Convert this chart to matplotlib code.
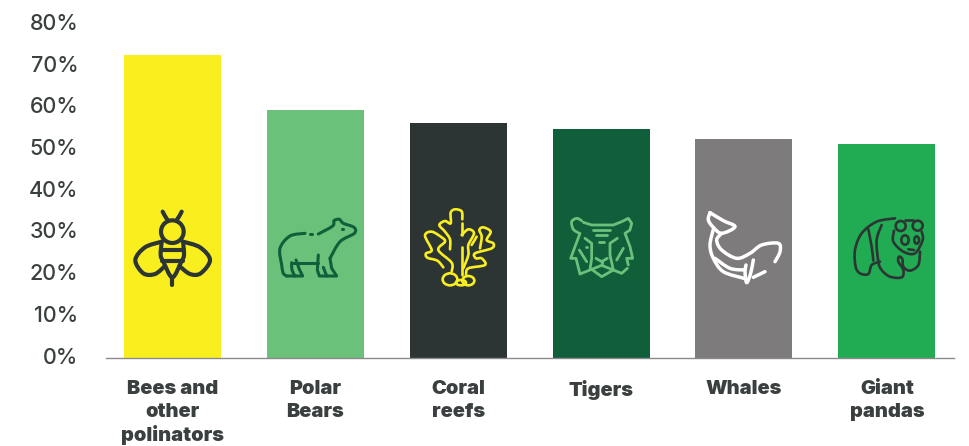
import numpy as np
from matplotlib import pyplot as plt
from matplotlib.patches import Ellipse, PathPatch
from matplotlib.path import Path

categories = ["Bees and\nother\npolinators", "Polar\nBears", "Coral\nreefs", "Tigers", "Whales", "Giant\npandas"]
values = [72.6, 59.4, 56.3, 54.8, 52.4, 51.2]
colors = ["#FAEF1E", "#6AC17A", "#2D3534", "#115E3B", "#7D7B7C", "#21AB52"]
y_ticks = [0, 10, 20, 30, 40, 50, 60, 70, 80]
text_color = "#3A3F3F"

W, H = 970, 446

fig = plt.figure(figsize=(W / 100, H / 100), dpi=100)
ax = fig.add_axes([106 / W, (H - 357.5) / H, 848 / W, 333.5 / H])

x = np.arange(len(categories))
ax.bar(x, values, width=0.679, color=colors)
ax.set_xlim(-0.464, 5.470)
ax.set_ylim(0, 80)

ax.set_yticks(y_ticks)
ax.set_yticklabels([f"{v}%" for v in y_ticks], family="Inter", fontsize=15.5, fontweight=500, color=text_color, va="center")
ax.set_xticks(x)
ax.set_xticklabels(categories, family="Inter", fontsize=14.4, fontweight=900, color=text_color, linespacing=1.3)
ax.tick_params(axis="y", length=0, pad=20)
ax.tick_params(axis="x", length=0, pad=16.5)
for side in ["top", "left", "right"]:
    ax.spines[side].set_visible(False)
ax.spines["bottom"].set_color("#8A8A8A")
ax.spines["bottom"].set_linewidth(1)

# icons sit on an overlay that uses pixel coordinates
ov = fig.add_axes([0, 0, 1, 1])
ov.set_xlim(0, W)
ov.set_ylim(H, 0)
ov.axis("off")
ov.patch.set_alpha(0)


def stroke(pts, origin, color, lw, smooth=True):
    p = np.array(pts, dtype=float) / 3 + origin
    if not smooth or len(p) < 3:
        verts = p
        codes = [Path.MOVETO] + [Path.LINETO] * (len(p) - 1)
    else:
        # catmull-rom to bezier
        q = np.vstack([p[0], p, p[-1]])
        verts = [p[0]]
        codes = [Path.MOVETO]
        for i in range(1, len(q) - 2):
            verts += [q[i] + (q[i + 1] - q[i - 1]) / 6, q[i + 1] - (q[i + 2] - q[i]) / 6, q[i + 1]]
            codes += [Path.CURVE4] * 3
    ov.add_patch(PathPatch(Path(verts, codes), fill=False, ec=color, lw=lw, capstyle="round", joinstyle="round"))


def oval(c, w, h, origin, color, lw):
    cx, cy = np.array(c, dtype=float) / 3 + origin
    ov.add_patch(Ellipse((cx, cy), w / 3, h / 3, fill=False, ec=color, lw=lw))


# bee
o = (110, 190)
c, lw = "#2D3534", 3.0
stroke([(158, 65), (165, 78), (174, 92)], o, c, lw)
stroke([(215, 65), (208, 78), (199, 92)], o, c, lw)
oval((187, 125), 68, 68, o, c, lw)
stroke([(155, 155), (152, 195), (160, 215), (187, 262), (214, 215), (222, 195), (219, 155)], o, c, lw)
stroke([(152, 180), (222, 180)], o, c, lw)
stroke([(155, 212), (219, 212)], o, c, lw)
stroke([(187, 262), (187, 285)], o, c, lw)
stroke([(155, 155), (105, 172), (76, 210), (100, 250), (135, 252), (165, 228)], o, c, lw)
stroke([(219, 155), (270, 172), (300, 210), (272, 250), (240, 252), (208, 228)], o, c, lw)

# bear
c, lw = "#115E3B", 2.2
stroke([(585, 130), (540, 138), (510, 175), (515, 225), (520, 250), (530, 258)], o, c, lw)
stroke([(530, 258), (578, 258), (568, 238), (558, 210)], o, c, lw, smooth=False)
stroke([(548, 218), (625, 218)], o, c, lw)
stroke([(545, 218), (546, 240), (555, 258)], o, c, lw)
stroke([(600, 131), (606, 131)], o, c, lw)
stroke([(625, 132), (668, 108), (672, 92), (688, 88), (700, 100), (732, 112), (733, 130), (690, 155), (660, 205)], o, c, lw)
stroke([(625, 195), (622, 240), (628, 258), (680, 258), (665, 235), (660, 205)], o, c, lw, smooth=False)
stroke([(640, 232), (650, 258)], o, c, lw)
stroke([(696, 118), (698, 118)], o, c, lw)

# coral
o = (400, 190)
c, lw = "#FAEF1E", 1.9
stroke([(155, 245), (155, 218), (115, 180), (135, 155), (125, 142), (95, 125), (75, 137), (95, 180), (78, 190), (82, 203), (112, 212), (130, 232)], o, c, lw)
stroke([(150, 178), (150, 148), (135, 125), (118, 105), (135, 93), (152, 100), (152, 68), (165, 58), (185, 64), (187, 88)], o, c, lw)
stroke([(185, 100), (185, 135)], o, c, lw)
stroke([(185, 170), (185, 255)], o, c, lw)
stroke([(185, 135), (205, 118), (222, 130), (205, 165), (205, 195), (190, 235)], o, c, lw)
stroke([(230, 140), (215, 165)], o, c, lw)
stroke([(198, 255), (205, 235), (255, 225), (245, 205), (228, 205), (225, 190), (275, 175), (280, 160), (260, 150), (272, 125), (250, 112), (238, 120), (245, 140), (240, 175)], o, c, lw)
oval((150, 268), 44, 36, o, c, lw)
oval((205, 272), 36, 28, o, c, lw)
oval((183, 278), 30, 16, o, c, lw)

# tiger
c, lw = "#6AC17A", 2.0
stroke([(550, 97), (575, 105), (640, 105), (665, 95), (685, 85), (695, 100), (690, 120), (675, 130), (690, 170), (698, 205), (680, 205), (685, 225)], o, c, lw, smooth=False)
stroke([(538, 130), (520, 118), (515, 95), (530, 85), (545, 92)], o, c, lw)
stroke([(540, 130), (525, 170), (512, 205), (528, 205), (540, 252), (575, 238), (605, 260), (640, 240), (665, 250), (682, 235)], o, c, lw, smooth=False)
stroke([(580, 120), (630, 120)], o, c, lw)
stroke([(588, 135), (622, 135)], o, c, lw)
stroke([(598, 155), (612, 155)], o, c, lw)
stroke([(555, 145), (575, 160), (575, 205), (570, 238)], o, c, lw, smooth=False)
stroke([(652, 145), (630, 160), (630, 195), (640, 240)], o, c, lw, smooth=False)
stroke([(588, 205), (605, 215), (622, 205)], o, c, lw, smooth=False)
stroke([(575, 238), (605, 226), (640, 240)], o, c, lw, smooth=False)
stroke([(605, 215), (605, 226)], o, c, lw)
stroke([(538, 180), (560, 215)], o, c, lw)
stroke([(670, 175), (650, 210)], o, c, lw)
stroke([(559, 170), (561, 170)], o, c, lw)
stroke([(647, 170), (649, 170)], o, c, lw)

# whale
o = (690, 190)
c, lw = "#FFFFFF", 2.5
stroke([(60, 68), (55, 90), (70, 112), (95, 130), (135, 110), (100, 92), (60, 68)], o, c, lw)
stroke([(70, 118), (60, 165), (70, 205), (100, 245), (162, 265)], o, c, lw)
stroke([(95, 130), (80, 150), (95, 180), (140, 205), (180, 190), (215, 165), (265, 160), (270, 185), (255, 215)], o, c, lw)
stroke([(75, 205), (120, 235), (165, 240)], o, c, lw)
stroke([(190, 210), (182, 250), (170, 278), (165, 245), (168, 225)], o, c, lw)
stroke([(190, 262), (225, 245)], o, c, lw)
stroke([(236, 232), (238, 232)], o, c, lw)

# panda
c, lw = "#2D3534", 1.9
stroke([(615, 85), (560, 95), (515, 130), (495, 180), (497, 230), (510, 250), (535, 252), (545, 225), (570, 215)], o, c, lw)
stroke([(535, 118), (545, 170), (550, 212)], o, c, lw)
stroke([(575, 105), (560, 150), (565, 215), (575, 240), (600, 260), (635, 262), (640, 240), (625, 215), (627, 200), (637, 207), (640, 230), (660, 242), (685, 225), (690, 185)], o, c, lw)
stroke([(612, 122), (610, 155), (640, 185), (675, 190), (698, 150), (695, 125)], o, c, lw)
stroke([(645, 90), (670, 90)], o, c, lw)
oval((632, 108), 30, 30, o, c, lw)
oval((683, 107), 30, 30, o, c, lw)
oval((645, 150), 22, 28, o, c, lw)
oval((680, 150), 14, 22, o, c, lw)
stroke([(655, 178), (672, 180)], o, c, lw)

fig.savefig("out.png", dpi=100)
